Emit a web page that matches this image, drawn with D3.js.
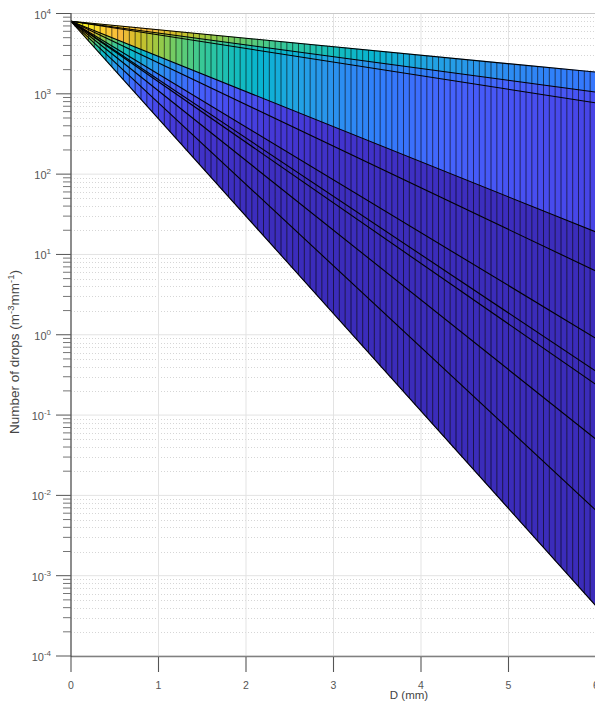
<!DOCTYPE html>
<html>
<head>
<meta charset="utf-8">
<script src="https://cdn.jsdelivr.net/npm/d3@7"></script>
<style>
  body { margin: 0; background: #fff; }
  svg { display: block; font-family: Arial, "Liberation Sans", sans-serif; }
</style>
</head>
<body>
<div class="drop-plot"></div>
<script>
// every curve starts at the same N0 and is a straight line on the log axis,
// so it is given by its value at D = 0 and its value at D = 6
const dropsAtZero = 8000;
const dropsAtSix = [1860, 1050, 770, 19, 6.2, 0.9, 0.35, 0.24, 0.05, 0.0065, 0.00042];
const meshDiameters = d3.range(0, 91).map(i => i / 15);   // surface mesh columns (mm)
const xTicks = [0, 1, 2, 3, 4, 5, 6];
const yExponents = [-4, -3, -2, -1, 0, 1, 2, 3, 4];
const parulaStops = ['#3b2cba', '#4537d5', '#484df0', '#4563fd', '#327cfc', '#2b91ef',
                     '#20a5e2', '#08b5d0', '#19bfb6', '#37c897', '#64cd6f', '#9dc943',
                     '#d1bf27', '#f8ba3d', '#fccf30', '#f5e924', '#f9fb15'];

const width = 595;
const height = 705;

const x = d3.scaleLinear().domain([0, 6]).range([71, 596]);
const y = d3.scaleLog().domain([1e-4, 1e4]).range([656, 13.5]);
const color = d3.scaleSequential(d3.piecewise(d3.interpolateRgb, parulaStops)).domain([0, dropsAtZero]);

function drops(k, D) {
    return dropsAtZero * Math.pow(dropsAtSix[k] / dropsAtZero, D / 6);
}

const svg = d3.select('.drop-plot')
    .append('svg')
    .attr('width', width)
    .attr('height', height);

// grid
const grid = svg.append('g');
yExponents.forEach(e => {
    grid.append('line')
        .attr('x1', x(0)).attr('x2', width)
        .attr('y1', y(Math.pow(10, e))).attr('y2', y(Math.pow(10, e)))
        .attr('stroke', '#e3e3e3').attr('stroke-width', 1);
    if (e < 4) {
        for (let m = 2; m <= 9; m++) {
            const v = m * Math.pow(10, e);
            grid.append('line')
                .attr('x1', x(0)).attr('x2', width)
                .attr('y1', Math.round(y(v)) + 0.5).attr('y2', Math.round(y(v)) + 0.5)
                .attr('stroke', '#d6d6d6').attr('stroke-width', 1)
                .attr('stroke-dasharray', '1,2');
        }
    }
});
xTicks.forEach(t => {
    grid.append('line')
        .attr('x1', x(t)).attr('x2', x(t))
        .attr('y1', y(1e4)).attr('y2', y(1e-4))
        .attr('stroke', '#e3e3e3').attr('stroke-width', 1);
});
grid.append('line')
    .attr('x1', x(0)).attr('x2', width)
    .attr('y1', 13.5).attr('y2', 13.5)
    .attr('stroke', '#c8c8c8');

// surface facets, coloured by the upper curve at the left edge of each column
const facets = [];
for (let k = 0; k < dropsAtSix.length - 1; k++) {
    for (let j = 0; j < meshDiameters.length - 1; j++) {
        facets.push({k: k, d0: meshDiameters[j], d1: meshDiameters[j + 1]});
    }
}
svg.append('g')
    .selectAll('path')
    .data(facets)
    .enter()
    .append('path')
        .attr('d', function (f) {
            return 'M' + x(f.d0) + ',' + y(drops(f.k, f.d0)) +
                   'L' + x(f.d1) + ',' + y(drops(f.k, f.d1)) +
                   'L' + x(f.d1) + ',' + y(drops(f.k + 1, f.d1)) +
                   'L' + x(f.d0) + ',' + y(drops(f.k + 1, f.d0)) + 'Z';
        })
        .attr('fill', function (f) { return color(drops(f.k, f.d0)); })
        .attr('stroke', function (f) { return color(drops(f.k, f.d0)); })
        .attr('stroke-width', 0.6);

// mesh edges: columns
const last = dropsAtSix.length - 1;
svg.append('g')
    .selectAll('line')
    .data(meshDiameters)
    .enter()
    .append('line')
        .attr('x1', function (d) { return x(d); })
        .attr('x2', function (d) { return x(d); })
        .attr('y1', function (d) { return y(drops(0, d)); })
        .attr('y2', function (d) { return y(drops(last, d)); })
        .attr('stroke', '#000')
        .attr('stroke-opacity', 0.75)
        .attr('stroke-width', 0.8);

// mesh edges: curves
svg.append('g')
    .selectAll('line')
    .data(dropsAtSix)
    .enter()
    .append('line')
        .attr('x1', x(0))
        .attr('y1', y(dropsAtZero))
        .attr('x2', x(6))
        .attr('y2', function (d) { return y(d); })
        .attr('stroke', '#000')
        .attr('stroke-width', 1.1);

// axes
const axes = svg.append('g');
axes.append('line')
    .attr('x1', x(0)).attr('x2', width)
    .attr('y1', 656.5).attr('y2', 656.5)
    .attr('stroke', '#808080').attr('stroke-width', 1.6);
axes.append('line')
    .attr('x1', x(0)).attr('x2', x(0))
    .attr('y1', 13).attr('y2', 657)
    .attr('stroke', '#3a3a3a').attr('stroke-width', 1.1);

xTicks.forEach(t => {
    axes.append('line')
        .attr('x1', x(t)).attr('x2', x(t))
        .attr('y1', 657).attr('y2', 672)
        .attr('stroke', '#555').attr('stroke-width', 1.1);
    axes.append('text')
        .attr('x', x(t)).attr('y', 689)
        .attr('text-anchor', 'middle')
        .attr('font-size', '10.5px')
        .attr('fill', '#555')
        .text(t);
});

yExponents.forEach(e => {
    const yy = y(Math.pow(10, e));
    axes.append('line')
        .attr('x1', 56).attr('x2', x(0))
        .attr('y1', yy).attr('y2', yy)
        .attr('stroke', '#555').attr('stroke-width', 1);
    const label = axes.append('text')
        .attr('x', 51).attr('y', yy + 5)
        .attr('text-anchor', 'end')
        .attr('font-size', '11px')
        .attr('fill', '#555');
    label.append('tspan').text('10');
    label.append('tspan')
        .attr('dy', -5)
        .attr('font-size', '8px')
        .text(e);
    if (e < 4) {
        for (let m = 2; m <= 9; m++) {
            const ym = y(m * Math.pow(10, e));
            axes.append('line')
                .attr('x1', 63).attr('x2', x(0))
                .attr('y1', ym).attr('y2', ym)
                .attr('stroke', '#666').attr('stroke-width', 0.9);
        }
    }
});

// labels
axes.append('text')
    .attr('x', 409).attr('y', 699)
    .attr('text-anchor', 'middle')
    .attr('font-size', '11.5px')
    .attr('fill', '#444')
    .text('D (mm)');

const ylab = axes.append('text')
    .attr('transform', 'translate(19,352) rotate(-90)')
    .attr('text-anchor', 'middle')
    .attr('font-size', '13.5px')
    .attr('fill', '#444');
ylab.append('tspan').text('Number of drops (m');
ylab.append('tspan').attr('dy', -5).attr('font-size', '9.5px').text('-3');
ylab.append('tspan').attr('dy', 5).text('mm');
ylab.append('tspan').attr('dy', -5).attr('font-size', '9.5px').text('-1');
ylab.append('tspan').attr('dy', 5).text(')');
</script>
</body>
</html>
